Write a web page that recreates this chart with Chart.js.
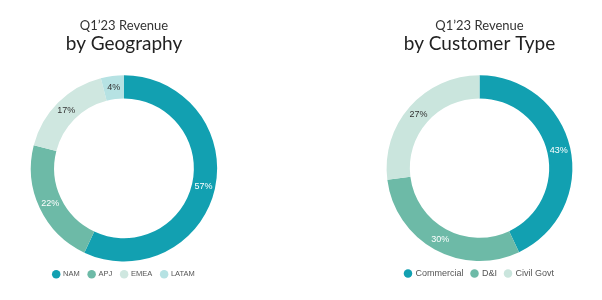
<!DOCTYPE html>
<html>
<head>
<meta charset="utf-8">
<script src="https://cdn.jsdelivr.net/npm/chart.js@4/dist/chart.umd.min.js"></script>
<style>
  body { margin: 0; background: #fff; }
  .wrap { position: absolute; top: 0; height: 300px; }
</style>
</head>
<body>
<div class="wrap" style="left:0;width:248px"><canvas id="geoChart"></canvas></div>
<div class="wrap" style="left:359px;width:241px"><canvas id="custChart"></canvas></div>
<script>
const geoLabels = ['NAM', 'APJ', 'EMEA', 'LATAM'];
const geoValues = [57, 22, 17, 4];
const geoColors = ['#12a0b1', '#6dbaa7', '#cfe7e0', '#b6e2e3'];

const custLabels = ['Commercial', 'D&I', 'Civil Govt'];
const custValues = [43, 30, 27];
const custColors = ['#12a0b1', '#6dbaa7', '#cae5dd'];

// white text on the dark slices, dark text on the light ones
const geoLabelColors = ['#fff', '#fff', '#333', '#333'];
const custLabelColors = ['#fff', '#fff', '#333'];

const sliceLabels = {
    id: 'sliceLabels',
    afterDatasetsDraw(chart) {
        const ctx = chart.ctx;
        const ds = chart.data.datasets[0];
        chart.getDatasetMeta(0).data.forEach((arc, i) => {
            const p = arc.tooltipPosition();
            ctx.save();
            ctx.font = '9px "Liberation Sans", Arial, sans-serif';
            ctx.fillStyle = ds.labelColors[i];
            ctx.textAlign = 'center';
            ctx.textBaseline = 'middle';
            ctx.fillText(ds.data[i] + '%', p.x, p.y);
            ctx.restore();
        });
    }
};

function makeDonut(id, labels, values, colors, labelColors, subtitle, legendSize, legendGap) {
    const canvas = document.getElementById(id);
    canvas.width = canvas.parentNode.clientWidth;
    canvas.height = 300;
    new Chart(canvas.getContext('2d'), {
        type: 'doughnut',
        data: {
            labels: labels,
            datasets: [{
                data: values,
                backgroundColor: colors,
                borderWidth: 0,
                labelColors: labelColors
            }]
        },
        options: {
            responsive: false,
            animation: false,
            cutout: '75%',
            layout: { padding: { top: 0, bottom: 12 } },
            plugins: {
                title: {
                    display: true,
                    text: 'Q1\u201923 Revenue',
                    color: '#333',
                    font: { family: 'Lato', size: 13, weight: '400', lineHeight: 1.1 },
                    padding: { top: 19, bottom: 0 }
                },
                subtitle: {
                    display: true,
                    text: subtitle,
                    color: '#222',
                    font: { family: 'Lato', size: 19, weight: '400', lineHeight: 1.1 },
                    padding: { top: 0, bottom: 21 }
                },
                legend: {
                    position: 'bottom',
                    labels: {
                        usePointStyle: true,
                        pointStyle: 'circle',
                        boxWidth: 6,
                        boxHeight: 6,
                        padding: legendGap,
                        color: '#555',
                        font: { family: 'Liberation Sans', size: legendSize }
                    }
                },
                tooltip: { enabled: false }
            }
        },
        plugins: [sliceLabels]
    });
}

makeDonut('geoChart', geoLabels, geoValues, geoColors, geoLabelColors, 'by Geography', 7.5, 9);
makeDonut('custChart', custLabels, custValues, custColors, custLabelColors, 'by Customer Type', 9, 8);
</script>
</body>
</html>
